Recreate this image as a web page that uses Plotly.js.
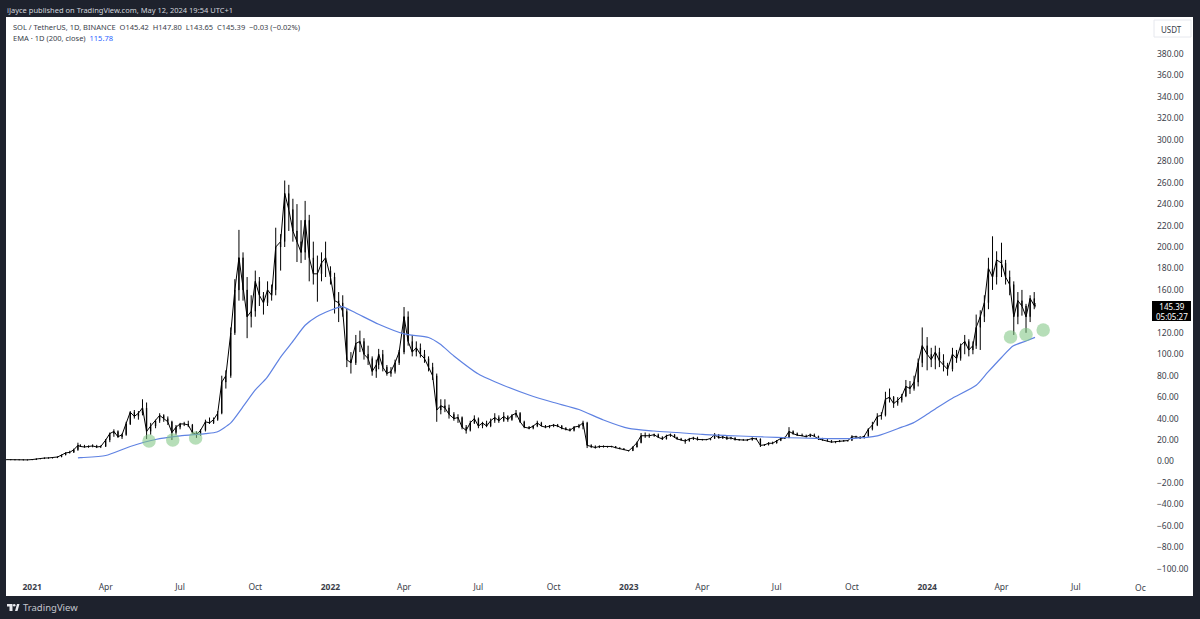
<!DOCTYPE html>
<html><head><meta charset="utf-8">
<script src="https://cdn.plot.ly/plotly-3.0.1.min.js"></script>
<style>html,body{margin:0;padding:0;background:#1e222d;overflow:hidden}#c{width:1200px;height:619px}</style>
</head><body><div id="c"></div>
<script>
const dates=[
'2020-12-01','2020-12-06','2020-12-11','2020-12-16','2020-12-21','2020-12-26',
'2021-01-01','2021-01-06','2021-01-11','2021-01-16','2021-01-21','2021-01-26',
'2021-02-01','2021-02-06','2021-02-11','2021-02-16','2021-02-21','2021-02-26',
'2021-03-01','2021-03-06','2021-03-11','2021-03-16','2021-03-21','2021-03-26',
'2021-04-01','2021-04-06','2021-04-11','2021-04-16','2021-04-21','2021-04-26',
'2021-05-01','2021-05-06','2021-05-11','2021-05-16','2021-05-21','2021-05-26',
'2021-06-01','2021-06-06','2021-06-11','2021-06-16','2021-06-21','2021-06-26',
'2021-07-01','2021-07-06','2021-07-11','2021-07-16','2021-07-21','2021-07-26',
'2021-08-01','2021-08-06','2021-08-11','2021-08-16','2021-08-21','2021-08-26',
'2021-09-01','2021-09-06','2021-09-11','2021-09-16','2021-09-21','2021-09-26',
'2021-10-01','2021-10-06','2021-10-11','2021-10-16','2021-10-21','2021-10-26',
'2021-11-01','2021-11-06','2021-11-11','2021-11-16','2021-11-21','2021-11-26',
'2021-12-01','2021-12-06','2021-12-11','2021-12-16','2021-12-21','2021-12-26',
'2022-01-01','2022-01-06','2022-01-11','2022-01-16','2022-01-21','2022-01-26',
'2022-02-01','2022-02-06','2022-02-11','2022-02-16','2022-02-21','2022-02-26',
'2022-03-01','2022-03-06','2022-03-11','2022-03-16','2022-03-21','2022-03-26',
'2022-04-01','2022-04-06','2022-04-11','2022-04-16','2022-04-21','2022-04-26',
'2022-05-01','2022-05-06','2022-05-11','2022-05-16','2022-05-21','2022-05-26',
'2022-06-01','2022-06-06','2022-06-11','2022-06-16','2022-06-21','2022-06-26',
'2022-07-01','2022-07-06','2022-07-11','2022-07-16','2022-07-21','2022-07-26',
'2022-08-01','2022-08-06','2022-08-11','2022-08-16','2022-08-21','2022-08-26',
'2022-09-01','2022-09-06','2022-09-11','2022-09-16','2022-09-21','2022-09-26',
'2022-10-01','2022-10-06','2022-10-11','2022-10-16','2022-10-21','2022-10-26',
'2022-11-01','2022-11-06','2022-11-11','2022-11-16','2022-11-21','2022-11-26',
'2022-12-01','2022-12-06','2022-12-11','2022-12-16','2022-12-21','2022-12-26',
'2023-01-01','2023-01-06','2023-01-11','2023-01-16','2023-01-21','2023-01-26',
'2023-02-01','2023-02-06','2023-02-11','2023-02-16','2023-02-21','2023-02-26',
'2023-03-01','2023-03-06','2023-03-11','2023-03-16','2023-03-21','2023-03-26',
'2023-04-01','2023-04-06','2023-04-11','2023-04-16','2023-04-21','2023-04-26',
'2023-05-01','2023-05-06','2023-05-11','2023-05-16','2023-05-21','2023-05-26',
'2023-06-01','2023-06-06','2023-06-11','2023-06-16','2023-06-21','2023-06-26',
'2023-07-01','2023-07-06','2023-07-11','2023-07-16','2023-07-21','2023-07-26',
'2023-08-01','2023-08-06','2023-08-11','2023-08-16','2023-08-21','2023-08-26',
'2023-09-01','2023-09-06','2023-09-11','2023-09-16','2023-09-21','2023-09-26',
'2023-10-01','2023-10-06','2023-10-11','2023-10-16','2023-10-21','2023-10-26',
'2023-11-01','2023-11-06','2023-11-11','2023-11-16','2023-11-21','2023-11-26',
'2023-12-01','2023-12-06','2023-12-11','2023-12-16','2023-12-21','2023-12-26',
'2024-01-01','2024-01-06','2024-01-11','2024-01-16','2024-01-21','2024-01-26',
'2024-02-01','2024-02-06','2024-02-11','2024-02-16','2024-02-21','2024-02-26',
'2024-03-01','2024-03-06','2024-03-11','2024-03-16','2024-03-21','2024-03-26',
'2024-04-01','2024-04-06','2024-04-11','2024-04-16','2024-04-21','2024-04-26',
'2024-05-01','2024-05-06','2024-05-11','2024-05-12'];
const open=[
1.7,1.7,1.6,1.5,1.6,1.4,
1.5,1.8,2.4,2.7,3.2,3.3,
3.5,4.2,6,8,8.5,11,
15,14,13.5,14,14.5,13.5,
14,20,26,28,23,25,
35,46,42,45,50,28,
33,38,43,40,37,27,
32,35,35,34,27,25,
29,37,36,39,45,74,
80,120,160,190,160,135,
140,168,155,148,160,160,
200,205,250,235,215,205,
195,225,190,175,175,185,
178,172,150,148,140,95,
92,110,112,100,96,84,
90,100,88,82,84,92,
102,135,112,102,106,100,
96,88,80,48,52,50,
44,40,41,32,29,36,
40,33,36,33,38,41,
38,42,39,43,45,37,
32,31,33,36,33,32,
33,34,33,31,30,29,
32,33,36,15,14,13,
14,13.8,13.6,14,12.8,12,
10,10,13.5,17.5,24,24,
24,25,22.5,21,24,25,
22.5,21,20,19,21,22,
20.5,20.5,20.3,21.5,25,22,
23,21.5,22,20.5,20,20,
20,21.5,21,15,15.5,17,
17,19.5,21.5,22,28,26,
24.5,24,23,25,23.5,21,
20,19.5,18,18.5,19,19.5,
19.5,23,23,22,23.5,30,
34,42,43,58,60,54,
57,61,70,68,74,92,
108,100,95,102,94,90,
86,100,96,108,112,104,
108,125,135,148,180,172,
188,185,172,165,135,150,
145,135,152,145.42];
const high=[
1.9,1.8,1.7,1.7,1.7,1.6,
2.0,2.6,3.0,3.6,3.8,3.9,
4.6,6.5,8.5,10,12,17.5,
16,15.5,15,16,15.5,15,
21,27,30,29,26,37,
47,48,47,58,55,36,
39,45,44,42,38,34,
36,37,38,35,28,30,
39,41,41,47,80,85,
125,170,216,195,172,155,
178,172,158,168,165,218,
212,262,258,245,240,225,
243,230,205,192,195,205,
182,176,158,155,143,102,
118,122,115,108,98,95,
105,104,90,88,95,104,
144,140,118,112,110,104,
98,92,82,58,58,53,
46,44,42,34,38,43,
41,37,38,40,45,43,
46,43,44,48,46,38,
33,34,38,37,34,34,
35,35,34,32,31,33,
35,38,37,16,15,15,
15,14.5,14.6,14.4,13,12.3,
10.5,14,18.5,26.5,27,26,
26,26,23.5,25,26,25.5,
23,22,21,22,23,23,
21,21,22,26.5,25.5,24,
23.5,23,22.5,21,21,21,
22.5,22,21.5,16,18,18.5,
20,22,23,32,29,27,
26,25,26,26,24,22,
21.5,20,19,20,20,20,
24.5,24,23.5,24,31,37,
45,46,65,68,61,60,
63,76,75,80,96,125,
116,106,108,106,100,92,
106,104,110,118,114,112,
137,141,155,190,210,196,
204,188,178,168,158,160,
147,155,158,147.80];
const low=[
1.6,1.5,1.4,1.4,1.3,1.2,
1.4,1.7,2.2,2.5,2.8,2.9,
3.3,4,5.8,7.5,8,10,
13.5,13,12.8,13.2,12.5,12.5,
13.5,18,23,22,21,24,
34,40,39,43,21,25,
31,36,37,34,20,25,
30,33,32,26,22,24,
28,35,35,38,44,68,
78,118,150,150,115,125,
135,145,137,145,150,155,
178,200,215,205,186,185,
188,168,165,149,168,172,
165,138,130,135,88,82,
90,102,95,90,80,78,
86,84,80,79,82,90,
100,108,98,98,97,92,
84,76,37,44,46,40,
38,36,30,26,28,35,
31,31,32,32,36,36,
37,37,38,41,36,31,
30,30,32,33,31,31,
32,32,30,29,28,28,
31,30,12.5,12.5,12,12.5,
13,13,13.2,12.5,11.5,10.8,
9.6,9.8,13,17,22,22,
23,22,20,20.5,23,22,
20.5,19.5,16.5,18.5,20,19.5,
19.5,20,19.8,21,21.5,21,
20,20.5,19.5,19.5,19.5,19,
19.5,20,13.5,14.5,15,16,
17,19,21,22,25,24,
23.5,22.5,23,23,20,19.5,
18.5,17.5,17,18,18.5,18.5,
19.5,21.5,21,21.5,23,29,
33,39,42,55,50,52,
55,60,63,66,70,88,
85,88,86,88,84,80,
84,92,94,100,98,100,
105,104,130,142,160,165,
172,165,155,118,128,136,
120,130,142,143.65];
const close=[
1.7,1.6,1.5,1.6,1.4,1.5,
1.8,2.4,2.7,3.2,3.3,3.5,
4.2,6,8,8.5,11,15,
14,13.5,14,14.5,13.5,14,
20,26,28,23,25,35,
46,42,45,50,28,33,
38,43,40,37,27,32,
35,35,34,27,25,29,
37,36,39,45,74,80,
120,160,190,160,135,140,
168,155,148,160,155,200,
205,250,235,215,205,195,
225,190,175,175,185,190,
172,150,148,140,95,92,
110,112,100,96,84,90,
100,88,82,84,92,102,
135,112,102,106,100,96,
88,80,48,52,50,44,
40,41,32,29,36,40,
33,36,33,38,41,38,
42,39,43,45,37,32,
31,33,36,33,32,33,
34,33,31,30,29,32,
33,36,15,14,13,14,
13.8,13.6,14,12.8,12,11,
10,13.5,17.5,24,24,24,
25,22.5,21,24,25,22.5,
21,20,19,21,22,20.5,
20.5,20.3,21.5,25,22,23,
21.5,22,20.5,20,20,20,
21.5,21,15,15.5,17,17,
19.5,21.5,22,28,26,24.5,
24,23,25,23.5,21,20,
19.5,18,18.5,19,19.5,19.5,
23,23,22,23.5,30,34,
42,43,58,60,54,57,
61,70,68,74,92,108,
100,95,102,94,90,86,
100,96,108,112,104,108,
125,135,148,180,172,188,
185,172,165,135,150,145,
135,152,145.42,145.39];
const emaDates=['2021-02-26','2021-03-01','2021-04-01','2021-05-01','2021-06-01','2021-07-01','2021-08-01','2021-08-15','2021-09-01','2021-09-15','2021-10-01','2021-10-15','2021-11-01','2021-11-15','2021-12-01','2021-12-15','2022-01-01','2022-01-15','2022-02-01','2022-03-01','2022-04-01','2022-05-01','2022-05-15','2022-06-01','2022-07-01','2022-08-01','2022-09-01','2022-10-01','2022-11-01','2022-12-01','2023-01-01','2023-02-01','2023-03-01','2023-04-01','2023-05-01','2023-06-01','2023-07-01','2023-08-01','2023-09-01','2023-10-01','2023-11-01','2023-12-01','2023-12-15','2024-01-01','2024-01-15','2024-02-01','2024-03-01','2024-03-15','2024-04-01','2024-04-15','2024-05-01','2024-05-12'];
const emaValues=[3.3,3.5,5.6,14,20.5,23.8,26,27.5,36,50,66.7,78,97.4,111,127,135,141,144.5,138.5,128,119,115.6,109.5,98.4,81.6,70.9,62,55,48.5,38.7,30.8,28.4,27,25.2,24.2,23.3,22.4,21.9,21.4,21.4,23.8,32,36,44,51,59,71,83,97,107.7,112.4,115.78];
const circleDates=['2021-05-24','2021-06-22','2021-07-20','2024-04-12','2024-05-01','2024-05-22'];
const circleValues=[19,20,22,116,118.5,122.6];
const priceTicks=[380,360,340,320,300,280,260,240,220,200,180,160,120,100,80,60,40,20,0,-20,-40,-60,-80,-100];
const timeTicks=['2021-01-01','2021-04-01','2021-07-01','2021-10-01','2022-01-01','2022-04-01','2022-07-01','2022-10-01','2023-01-01','2023-04-01','2023-07-01','2023-10-01','2024-01-01','2024-04-01','2024-07-01'];
const timeLabels=['<b>2021</b>','Apr','Jul','Oct','<b>2022</b>','Apr','Jul','Oct','<b>2023</b>','Apr','Jul','Oct','<b>2024</b>','Apr','Jul'];

const W=1200,H=619,L=6,R=1147,T=17,B=576,FONT='"Noto Sans",sans-serif';
const px=x=>(x-L)/(R-L), py=y=>(B-y)/(B-T);
const note=(x,y,text,size,color,extra)=>Object.assign({xref:'paper',yref:'paper',x:px(x),y:py(y),text,showarrow:false,xanchor:'left',yanchor:'middle',align:'left',font:{family:FONT,size,color},borderpad:0},extra||{});
const box=(x0,y0,x1,y1,fill,line,layer)=>({type:'rect',xref:'paper',yref:'paper',x0:px(x0),x1:px(x1),y0:py(y0),y1:py(y1),fillcolor:fill,line:{width:line?1:0,color:line||fill},layer:layer||'below'});
const logoPath=[[7,604],[12.5,604],[12.5,611],[9.5,611],[9.5,606.5],[7,606.5]].map((p,i)=>(i?'L':'M')+px(p[0])+','+py(p[1])).join(' ')+' Z '+[[15,611],[17,604],[19.5,604],[17.5,611]].map((p,i)=>(i?'L':'M')+px(p[0])+','+py(p[1])).join(' ')+' Z';

const traces=[
 {type:'scatter',mode:'lines',x:dates,y:close,line:{color:'#000',width:1},hoverinfo:'skip',showlegend:false},
 {type:'candlestick',x:dates,open,high,low,close,
  increasing:{line:{color:'#000',width:1},fillcolor:'#000'},
  decreasing:{line:{color:'#000',width:1},fillcolor:'#000'},
  hoverinfo:'skip',showlegend:false,whiskerwidth:0},
 {type:'scatter',mode:'lines',x:emaDates,y:emaValues,line:{color:'#5f82e2',width:1.2,shape:'spline',smoothing:0.6},hoverinfo:'skip',showlegend:false},
 {type:'scatter',mode:'markers',x:circleDates,y:circleValues,marker:{size:13.5,color:'rgba(129,199,132,0.58)',line:{width:0}},hoverinfo:'skip',showlegend:false}
];
const layout={
 width:W,height:H,margin:{l:L,r:W-R,t:T,b:H-B,pad:0},
 paper_bgcolor:'#1e222d',plot_bgcolor:'#ffffff',showlegend:false,hovermode:false,
 font:{family:FONT,color:'#131722'},
 xaxis:{type:'date',range:['2020-11-30','2024-09-26'],rangeslider:{visible:false},showgrid:false,zeroline:false,showline:false,ticks:'',tickmode:'array',tickvals:timeTicks,ticktext:timeLabels,tickangle:0,tickfont:{family:FONT,size:8.5,color:'#3a3e4a'},ticklabelstandoff:4},
 yaxis:{side:'right',range:[-106.8,414.5],showgrid:false,zeroline:false,showline:false,ticks:'',tickmode:'array',tickvals:priceTicks,ticktext:priceTicks.map(v=>(v<0?'\u2212':'')+Math.abs(v).toFixed(2)),tickfont:{family:FONT,size:8.5,color:'#3a3e4a'},ticklabelstandoff:9},
 shapes:[
  box(L,B,R,596,'#ffffff'),
  box(R,T,1193,596,'#ffffff'),
  box(1154,20,1191,37,'#ffffff','#e6e8ee','above'),
  box(1152,301,1191,321,'#000000',null,'above'),
  {type:'path',xref:'paper',yref:'paper',path:logoPath,fillcolor:'#e8e9ee',line:{width:0}},
  {type:'circle',xref:'paper',yref:'paper',x0:px(12.9),x1:px(15.5),y0:py(604),y1:py(606.6),fillcolor:'#e8e9ee',line:{width:0}}
 ],
 annotations:[
  note(6,9.5,'iJayce published on TradingView.com, May 12, 2024 19:54 UTC+1',7.5,'#d1d4dc'),
  note(12,27,'SOL / TetherUS, 1D, BINANCE\u00a0\u00a0O145.42\u00a0\u00a0H147.80\u00a0\u00a0L143.65\u00a0\u00a0C145.39\u00a0\u00a0\u22120.03 (\u22120.02%)',7.5,'#3a3e4a'),
  note(12,38,'EMA \u00b7 1D (200, close)\u00a0\u00a0<span style="color:#2962ff">115.78</span>',7.5,'#3a3e4a'),
  note(1160,29,'USDT',8,'#3a3e4a'),
  note(1171.5,311,'145.39<br>05:05:27',8,'#ffffff',{xanchor:'center',align:'center'}),
  note(1147,587,'Oc',8.5,'#3a3e4a',{xanchor:'right'}),
  note(22,607.5,'TradingView',9.5,'#c4c6ce')
 ]
};
Plotly.newPlot('c',traces,layout,{displayModeBar:false,staticPlot:true});
</script></body></html>
